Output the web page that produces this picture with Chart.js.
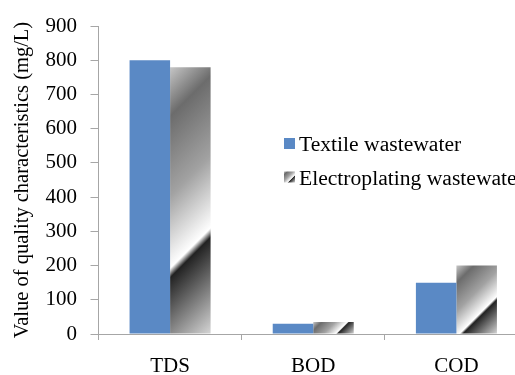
<!DOCTYPE html>
<html>
<head>
<meta charset="utf-8">
<script src="https://cdn.jsdelivr.net/npm/chart.js@4.4.1/dist/chart.umd.min.js"></script>
<style>
  html, body { margin: 0; padding: 0; background: #fff; overflow: hidden; }
  #wrap { position: relative; width: 528px; height: 375px; }
</style>
</head>
<body>
<div id="wrap"><canvas id="c"></canvas></div>
<script>
// Wastewater quality characteristics (mg/L)
const categories = ['TDS', 'BOD', 'COD'];
const textileValues = [800, 30, 150];
const electroplatingValues = [780, 35, 200];
const seriesNames = ['Textile wastewater', 'Electroplating wastewater'];
const yMin = 0;
const yMax = 900;
const yStep = 100;

const FONT = '"Liberation Serif", "Times New Roman", serif';
const AXIS_GRAY = '#a6a6a6';
const BLUE = '#5a89c5';
// metallic "chrome" fill, laid out along a 45° diagonal of each bar
const CHROME_STOPS = [
  [0.00, '#c6c6c6'],
  [0.16, '#6c6c6c'],
  [0.42, '#a2a2a2'],
  [0.655, '#ffffff'],
  [0.685, '#222222'],
  [1.00, '#d6d6d6']
];
const GROUP_FRACTION = 0.566;

function chromeGradient(ctx, left, top, w, h) {
  const d = (w + h) / 2;
  const g = ctx.createLinearGradient(left, top, left + d, top + d);
  CHROME_STOPS.forEach(([o, c]) => g.addColorStop(o, c));
  return g;
}

function chromeBarFill(c) {
  const chart = c.chart;
  const xs = chart.scales.x, ys = chart.scales.y;
  if (c.type !== 'data' || !xs || !ys) return '#999999';
  const center = xs.getPixelForValue(c.dataIndex);
  const catW = xs.width / categories.length;
  const w = catW * GROUP_FRACTION / 2;
  const top = ys.getPixelForValue(c.raw);
  const base = ys.getPixelForValue(0);
  if (![center, w, top, base].every(Number.isFinite) || base - top <= 0) return '#999999';
  return chromeGradient(chart.ctx, center, top, w, base - top);
}

// legend drawn inside the plot area
const insetLegend = {
  id: 'insetLegend',
  afterDraw(chart, args, opts) {
    const ctx = chart.ctx;
    ctx.save();
    ctx.font = opts.font;
    ctx.textBaseline = 'alphabetic';
    ctx.textAlign = 'left';
    chart.data.datasets.forEach((ds, i) => {
      const top = opts.top + i * opts.rowGap;
      ctx.fillStyle = typeof ds.backgroundColor === 'function'
        ? chromeGradient(ctx, opts.x, top, opts.box, opts.box)
        : ds.backgroundColor;
      ctx.fillRect(opts.x, top, opts.box, opts.box);
      ctx.fillStyle = '#000';
      ctx.fillText(ds.label, opts.textX, top + opts.baseline);
    });
    ctx.restore();
  }
};

new Chart(document.getElementById('c'), {
  type: 'bar',
  data: {
    labels: categories,
    datasets: [
      { label: seriesNames[0], data: textileValues, backgroundColor: BLUE },
      { label: seriesNames[1], data: electroplatingValues, backgroundColor: chromeBarFill }
    ]
  },
  options: {
    responsive: true,
    maintainAspectRatio: false,
    animation: false,
    devicePixelRatio: 1,
    layout: { padding: { top: 20.5, left: 0, right: 0, bottom: 0 } },
    datasets: { bar: { categoryPercentage: GROUP_FRACTION, barPercentage: 1, borderWidth: 0 } },
    plugins: {
      legend: { display: false },
      tooltip: { enabled: false },
      insetLegend: {
        font: '21.6px ' + FONT,
        x: 284, top: 138, box: 11, rowGap: 33.5, textX: 299, baseline: 13
      }
    },
    scales: {
      x: {
        grid: { drawOnChartArea: false, drawTicks: true, tickLength: 6, color: AXIS_GRAY, offset: true },
        border: { color: AXIS_GRAY, width: 1 },
        ticks: { color: '#000', font: { family: FONT, size: 21 }, padding: 14, maxRotation: 0 },
        afterFit: s => { s.height = 41; }
      },
      y: {
        min: yMin,
        max: yMax,
        ticks: { stepSize: yStep, color: '#000', font: { family: FONT, size: 21 }, padding: 13.5 },
        grid: { drawOnChartArea: false, drawTicks: true, tickLength: 8, color: AXIS_GRAY },
        border: { color: AXIS_GRAY, width: 1 },
        title: {
          display: true,
          text: 'Value of quality characteristics (mg/L)',
          color: '#000',
          font: { family: FONT, size: 20.5 },
          padding: { top: 10, bottom: 0 }
        },
        afterFit: s => { s.width = 98.5; }
      }
    }
  },
  plugins: [insetLegend]
});
</script>
</body>
</html>
